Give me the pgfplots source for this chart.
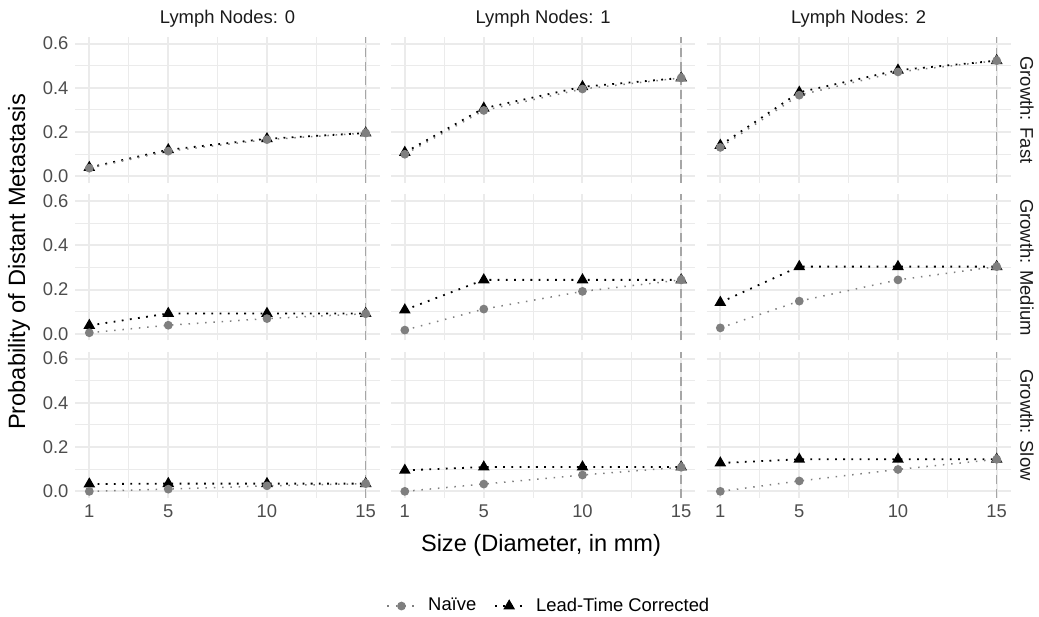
\documentclass[border=0pt]{standalone}
\usepackage{fontspec}
\setmainfont{Liberation Sans}
\usepackage{pgfplots}
\pgfplotsset{compat=1.18}
\definecolor{gridc}{HTML}{EBEBEB}
\definecolor{naivec}{HTML}{7F7F7F}
\definecolor{tickc}{HTML}{4D4D4D}
\definecolor{stripc}{HTML}{1A1A1A}
\definecolor{vlinec}{HTML}{A6A6A6}

\pgfplotsset{
  panel/.style={
    scale only axis, width=152pt, height=73pt, anchor=south west,
    xmin=0.3, xmax=15.7, ymin=-0.03, ymax=0.63,
    xtick={1,5,10,15}, ytick={0,0.2,0.4,0.6},
    minor xtick={3,7.5,12.5}, minor ytick={0.1,0.3,0.5},
    grid=both,
    major grid style={draw=gridc, line width=1pt},
    minor grid style={draw=gridc, line width=0.5pt},
    axis line style={draw=none},
    major tick length=0pt, minor tick length=0pt,
    tick label style={font=\fontsize{9.2}{11}\selectfont, text=tickc},
    xticklabels={,,,}, yticklabels={,,,},
    clip=false,
  },
  legkey/.style={legend image code/.code={\draw[mark repeat=2,mark phase=2,##1]
     plot coordinates {(0pt,0pt)(7pt,0pt)(14pt,0pt)};}},
  vline/.style={vlinec, line width=0.7pt, dash pattern=on 4.5pt off 2.5pt},
  corr/.style={black, line width=0.9pt, dash pattern=on 0.9pt off 3.2pt,
    mark=triangle*, mark size=2.5pt, mark options={solid}},
  naive/.style={naivec, line width=0.75pt, dash pattern=on 0.75pt off 3.4pt,
    mark=*, mark size=1.8pt, mark options={solid}},
}

\newcommand{\panel}[6]{%
\begin{axis}[panel, at={(#1,#2)}, #6]
\addplot[forget plot, vline] coordinates {(15,-0.03)(15,0.63)};
\addplot[corr] coordinates {#4};
\addplot[naive] coordinates {#3};
\addplot[forget plot, only marks, mark=triangle*, mark size=2.5pt, color=naivec] coordinates {(15,#5)};
\end{axis}}

\begin{document}
\begin{tikzpicture}
\path[use as bounding box] (0,0) rectangle (519.5pt,308pt);

% Growth: Fast
\panel{37.75pt}{216.5pt}
  {(1,0.037)(5,0.114)(10,0.166)(15,0.196)}
  {(1,0.040)(5,0.120)(10,0.170)(15,0.196)}{0.196}
  {yticklabels={0.0,0.2,0.4,0.6}}
\panel{195.5pt}{216.5pt}
  {(1,0.100)(5,0.298)(10,0.395)(15,0.445)}
  {(1,0.108)(5,0.308)(10,0.405)(15,0.445)}{0.445}{}
\panel{353.25pt}{216.5pt}
  {(1,0.131)(5,0.367)(10,0.472)(15,0.523)}
  {(1,0.140)(5,0.380)(10,0.480)(15,0.523)}{0.523}{}

% Growth: Medium
\panel{37.75pt}{137.75pt}
  {(1,0.005)(5,0.039)(10,0.069)(15,0.091)}
  {(1,0.038)(5,0.092)(10,0.092)(15,0.092)}{0.092}
  {yticklabels={0.0,0.2,0.4,0.6}}
\panel{195.5pt}{137.75pt}
  {(1,0.017)(5,0.112)(10,0.192)(15,0.244)}
  {(1,0.108)(5,0.244)(10,0.244)(15,0.244)}{0.244}{}
\panel{353.25pt}{137.75pt}
  {(1,0.027)(5,0.148)(10,0.244)(15,0.304)}
  {(1,0.142)(5,0.304)(10,0.304)(15,0.304)}{0.304}{}

% Growth: Slow
\panel{37.75pt}{59pt}
  {(1,0.000)(5,0.010)(10,0.025)(15,0.035)}
  {(1,0.033)(5,0.035)(10,0.035)(15,0.035)}{0.035}
  {yticklabels={0.0,0.2,0.4,0.6}, xticklabels={1,5,10,15}}
\panel{195.5pt}{59pt}
  {(1,0.000)(5,0.033)(10,0.074)(15,0.109)}
  {(1,0.095)(5,0.110)(10,0.110)(15,0.110)}{0.110}
  {xticklabels={1,5,10,15},
   legend entries={Lead-Time Corrected,Naïve}, reverse legend,
   legend columns=2, legkey,
   legend style={at={(0.523,-0.74)}, anchor=center, draw=none, fill=none,
     font=\fontsize{9.2}{11}\selectfont, text=black,
     /tikz/every odd column/.append style={column sep=4pt},
     /tikz/every even column/.append style={column sep=7pt}}}
\panel{353.25pt}{59pt}
  {(1,0.000)(5,0.047)(10,0.099)(15,0.145)}
  {(1,0.128)(5,0.145)(10,0.145)(15,0.145)}{0.145}
  {xticklabels={1,5,10,15}}

% strip labels
\begin{scope}[every node/.style={font=\fontsize{9.2}{11}\selectfont, text=stripc}]
\node at (113.75pt,298.5pt) {Lymph Nodes: 0};
\node at (271.5pt,298.5pt) {Lymph Nodes: 1};
\node at (429.25pt,298.5pt) {Lymph Nodes: 2};
\node[rotate=-90] at (513.5pt,253pt) {Growth: Fast};
\node[rotate=-90] at (513.5pt,174.25pt) {Growth: Medium};
\node[rotate=-90] at (513.5pt,95.5pt) {Growth: Slow};
\end{scope}

% axis titles
\node[font=\fontsize{11.8}{14}\selectfont, rotate=90] at (9.5pt,177pt) {Probability of Distant Metastasis};
\node[font=\fontsize{11.8}{14}\selectfont] at (270.5pt,35.5pt) {Size (Diameter, in mm)};
\end{tikzpicture}
\end{document}
